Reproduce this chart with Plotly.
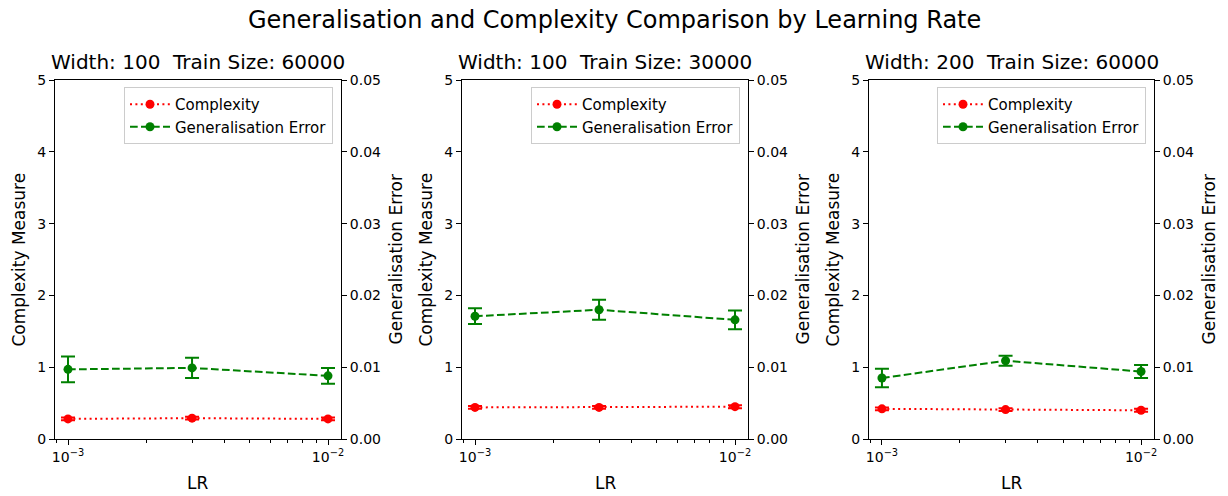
import plotly.graph_objects as go

# ---- data ----
lr = [1e-3, 3e-3, 1e-2]
titles = ["Width: 100  Train Size: 60000",
          "Width: 100  Train Size: 30000",
          "Width: 200  Train Size: 60000"]
complexity = [[0.28, 0.29, 0.28],
              [0.44, 0.44, 0.45],
              [0.42, 0.41, 0.40]]
complexity_err = [[0.02, 0.02, 0.02],
                  [0.02, 0.02, 0.02],
                  [0.02, 0.02, 0.02]]
gen_error = [[0.0097, 0.0099, 0.0088],
             [0.0171, 0.0180, 0.0166],
             [0.0085, 0.0109, 0.0094]]
gen_error_err = [[0.0018, 0.0014, 0.0011],
                 [0.0011, 0.0014, 0.0013],
                 [0.0013, 0.0007, 0.0009]]
x_tickvals = [1e-3, 1e-2]
x_ticktext = ["10<sup>\u22123</sup>", "10<sup>\u22122</sup>"]
x_minor = [9e-4, 2e-3, 3e-3, 4e-3, 5e-3, 6e-3, 7e-3, 8e-3, 9e-3]

W, H = 1228, 496
FONT = "DejaVu Sans"
RED = "#ff0000"
GREEN = "#008000"

# panel geometry (pixels)
panels_px = [(55, 341), (462, 748), (869, 1154)]
top_px, bot_px = 80, 439

fig = go.Figure()
layout = dict(
    width=W, height=H,
    margin=dict(l=0, r=0, t=0, b=0, autoexpand=False),
    paper_bgcolor="white", plot_bgcolor="white",
    font=dict(family=FONT, size=14, color="#000000"),
    showlegend=True,
    annotations=[],
)

ydom = [1 - bot_px / H, 1 - top_px / H]
axis_common = dict(showline=True, linecolor="black", linewidth=1,
                   ticks="outside", ticklen=5, tickwidth=1, tickcolor="black",
                   showgrid=False, zeroline=False, automargin=False,
                   tickfont=dict(family=FONT, size=14, color="black"))

def ann(text, x, y, angle=0, size=17, xa="center", ya="middle"):
    return dict(text=text, x=x / W, y=1 - y / H, xref="paper", yref="paper",
                xanchor=xa, yanchor=ya, textangle=angle, showarrow=False,
                font=dict(family=FONT, size=size, color="black"))

for i in range(3):
    xl, xr = panels_px[i]
    xs = "" if i == 0 else str(i + 1)
    yl = "" if i == 0 else str(2 * i + 1)
    yr = str(2 * i + 2)
    leg = "legend" if i == 0 else "legend" + str(i + 1)

    fig.add_trace(go.Scatter(
        x=lr, y=complexity[i], name="Complexity",
        mode="lines+markers",
        line=dict(color=RED, width=2, dash="2px,3.4px"),
        marker=dict(color=RED, size=9),
        error_y=dict(type="data", array=complexity_err[i], color=RED,
                     thickness=2, width=7),
        xaxis="x" + xs, yaxis="y" + yl, legend=leg))
    fig.add_trace(go.Scatter(
        x=lr, y=gen_error[i], name="Generalisation Error",
        mode="lines+markers",
        line=dict(color=GREEN, width=2, dash="7.7px,3.3px"),
        marker=dict(color=GREEN, size=9),
        error_y=dict(type="data", array=gen_error_err[i], color=GREEN,
                     thickness=2, width=7),
        xaxis="x" + xs, yaxis="y" + yr, legend=leg))

    layout["xaxis" + xs] = dict(
        axis_common, domain=[xl / W, xr / W], type="log",
        range=[-3.05, -1.95], anchor="y" + yl, mirror=True,
        tickmode="array", tickvals=x_tickvals, ticktext=x_ticktext,
        minor=dict(ticks="outside", ticklen=3, tickwidth=1, tickcolor="black",
                   tickmode="array", tickvals=x_minor, showgrid=False))
    layout["yaxis" + yl] = dict(
        axis_common, domain=ydom, range=[0, 5], dtick=1, tick0=0,
        anchor="x" + xs, side="left")
    layout["yaxis" + yr] = dict(
        axis_common, domain=ydom, range=[0, 0.05], dtick=0.01, tick0=0,
        tickformat=".2f", anchor="x" + xs, side="right",
        overlaying="y" + yl)

    layout[leg] = dict(
        x=(xr - 8) / W, y=1 - 87 / H, xanchor="right", yanchor="top",
        xref="paper", yref="paper",
        bgcolor="rgba(255,255,255,0.8)", bordercolor="#cccccc", borderwidth=1,
        font=dict(family=FONT, size=15, color="black"),
        itemwidth=40)

    layout["annotations"].append(ann(titles[i], (xl + xr) / 2, 76, size=20, ya="bottom"))
    layout["annotations"].append(ann("Complexity Measure", xl - 37, (top_px + bot_px) / 2, angle=-90))
    layout["annotations"].append(ann("Generalisation Error", xr + 54, (top_px + bot_px) / 2, angle=-90))
    layout["annotations"].append(ann("LR", (xl + xr) / 2, 483))

layout["annotations"].append(ann(
    "Generalisation and Complexity Comparison by Learning Rate",
    W / 2, 20, size=24))

fig.update_layout(layout)
fig.write_html("out.html", config={"displayModeBar": False},
               post_script="document.body.style.margin='0px';")
